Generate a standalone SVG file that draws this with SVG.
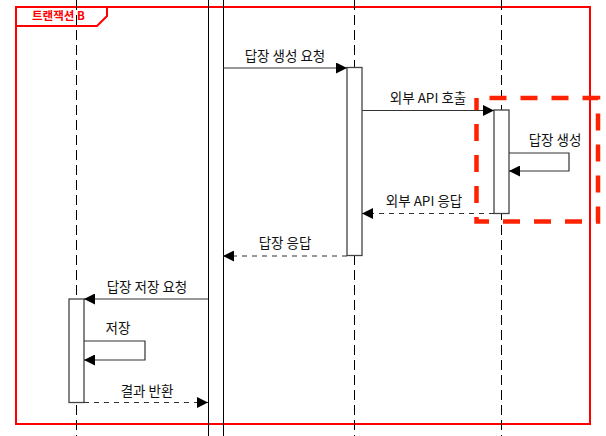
<svg xmlns="http://www.w3.org/2000/svg" width="606" height="436" viewBox="0 0 606 436">
<style>
.lifeline{stroke:#000;stroke-width:1;stroke-dasharray:10,5;fill:none}
.act{fill:#fff;stroke:#444;stroke-width:1.3}
.msg{stroke:#333;stroke-width:1.2;fill:none}
.ret{stroke:#333;stroke-width:1.2;fill:none;stroke-dasharray:5,5}
.lbl{font-family:"Noto Sans CJK KR","Noto Sans",sans-serif;font-size:13.5px;fill:#111;text-anchor:middle}
.frame{fill:none;stroke:#f00;stroke-width:2}
.ftitle{font-family:"Noto Sans CJK KR","Noto Sans",sans-serif;font-size:11.5px;font-weight:bold;fill:#f00}
</style>
<defs>
<marker id="ah" viewBox="0 0 11 11" refX="11" refY="5.5" markerWidth="11" markerHeight="11" orient="auto" markerUnits="userSpaceOnUse">
<path d="M0,0 L11,5.5 L0,11 z" fill="#000"/>
</marker>
</defs>
<rect width="606" height="436" fill="#fff"/>
<g id="frame">
<rect class="frame" x="16" y="7" width="574" height="417"/>
<path class="frame" d="M16,26 L97,26 L107,16 L107,7"/>
<text class="ftitle" x="32" y="20">트랜잭션 B</text>
</g>
<g id="lifelines">
<line class="lifeline" x1="76.5" y1="0" x2="76.5" y2="436"/>
<line class="lifeline" x1="354.5" y1="0" x2="354.5" y2="436"/>
<line class="lifeline" x1="501.5" y1="0" x2="501.5" y2="436"/>
</g>
<g id="participant-2">
<rect x="208.5" y="-2" width="15" height="440" fill="none" stroke="#000" stroke-width="1"/>
</g>
<g id="activation-3">
<rect class="act" x="347" y="67.5" width="15" height="188"/>
</g>
<g id="activation-4">
<rect class="act" x="494" y="110" width="15" height="103.5"/>
</g>
<g id="activation-1">
<rect class="act" x="69" y="299" width="15" height="103.5"/>
</g>
<g id="highlight">
<rect x="476.5" y="98" width="121.5" height="123.5" fill="none" stroke="#ff2200" stroke-width="4.5" stroke-dasharray="17,14" stroke-dashoffset="18"/>
</g>
<g id="connectors">
<line class="msg" x1="223" y1="68" x2="347" y2="68" marker-end="url(#ah)"/>
<text class="lbl" x="285" y="61">답장 생성 요청</text>
<line class="msg" x1="362" y1="110.5" x2="494" y2="110.5" marker-end="url(#ah)"/>
<text class="lbl" x="428" y="103">외부 API 호출</text>
<path class="msg" d="M509,153 L569,153 L569,171 L509,171" marker-end="url(#ah)"/>
<text class="lbl" x="555" y="145">답장 생성</text>
<line class="ret" x1="494" y1="213.5" x2="362" y2="213.5" marker-end="url(#ah)"/>
<text class="lbl" x="424" y="206">외부 API 응답</text>
<line class="ret" x1="347" y1="256" x2="223" y2="256" marker-end="url(#ah)"/>
<text class="lbl" x="285" y="248">답장 응답</text>
<line class="msg" x1="208" y1="299" x2="84" y2="299" marker-end="url(#ah)"/>
<text class="lbl" x="147" y="292">답장 저장 요청</text>
<path class="msg" d="M84,341 L145,341 L145,360 L84,360" marker-end="url(#ah)"/>
<text class="lbl" x="118" y="333">저장</text>
<line class="ret" x1="84" y1="402.5" x2="208" y2="402.5" marker-end="url(#ah)"/>
<text class="lbl" x="147" y="396">결과 반환</text>
</g>
</svg>
